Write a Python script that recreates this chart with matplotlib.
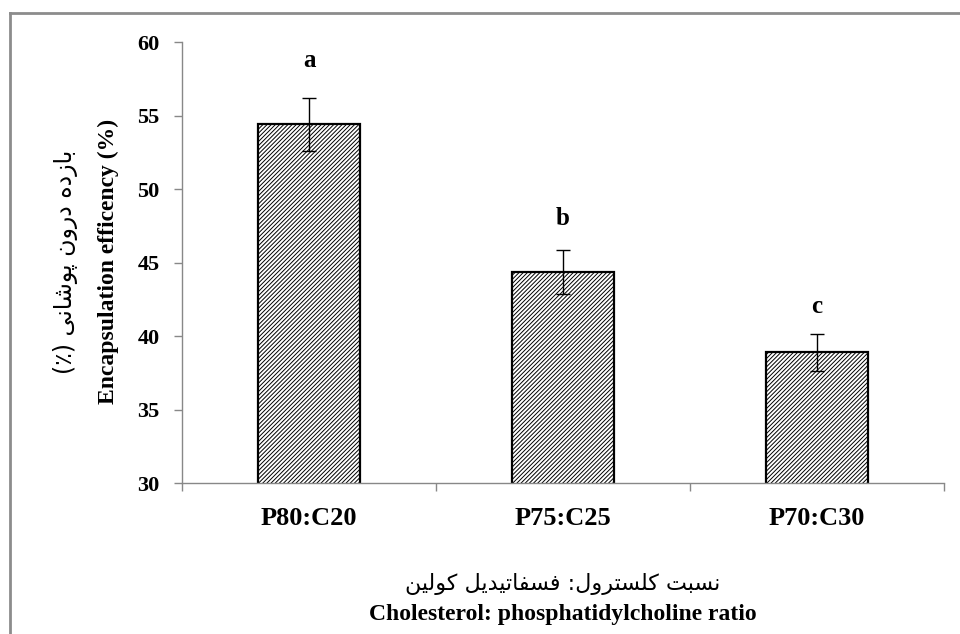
import matplotlib.pyplot as plt
from matplotlib.lines import Line2D

# data
groups = ['P80:C20', 'P75:C25', 'P70:C30']
efficiency = [54.4, 44.35, 38.9]
errors = [1.8, 1.5, 1.25]
letters = ['a', 'b', 'c']

ylabel_fa = 'بازده درون پوشانی (٪)'
ylabel_en = 'Encapsulation efficency (%)'
xlabel_fa = 'نسبت کلسترول: فسفاتیدیل کولین'
xlabel_en = 'Cholesterol: phosphatidylcholine ratio'

# tiny arabic shaper (no arabic_reshaper / bidi available)
# char: (isolated, final, initial, medial)
forms = {
    'ا': ('\uFE8D', '\uFE8E', None, None),
    'ب': ('\uFE8F', '\uFE90', '\uFE91', '\uFE92'),
    'ت': ('\uFE95', '\uFE96', '\uFE97', '\uFE98'),
    'د': ('\uFEA9', '\uFEAA', None, None),
    'ر': ('\uFEAD', '\uFEAE', None, None),
    'ز': ('\uFEAF', '\uFEB0', None, None),
    'س': ('\uFEB1', '\uFEB2', '\uFEB3', '\uFEB4'),
    'ش': ('\uFEB5', '\uFEB6', '\uFEB7', '\uFEB8'),
    'ف': ('\uFED1', '\uFED2', '\uFED3', '\uFED4'),
    'ل': ('\uFEDD', '\uFEDE', '\uFEDF', '\uFEE0'),
    'ن': ('\uFEE5', '\uFEE6', '\uFEE7', '\uFEE8'),
    'ه': ('\uFEE9', '\uFEEA', '\uFEEB', '\uFEEC'),
    'و': ('\uFEED', '\uFEEE', None, None),
    'پ': ('\uFB56', '\uFB57', '\uFB58', '\uFB59'),
    'ک': ('\uFB8E', '\uFB8F', '\uFB90', '\uFB91'),
    'ی': ('\uFBFC', '\uFBFD', '\uFBFE', '\uFBFF'),
}


def shape(txt):
    out = []
    for i, ch in enumerate(txt):
        if ch not in forms:
            out.append(ch)
            continue
        prev = txt[i - 1] if i > 0 else ''
        nxt = txt[i + 1] if i + 1 < len(txt) else ''
        dual = forms[ch][2] is not None
        p = prev in forms and forms[prev][2] is not None
        n = dual and nxt in forms
        if p and n:
            out.append(forms[ch][3])
        elif p:
            out.append(forms[ch][1])
        elif n:
            out.append(forms[ch][2])
        else:
            out.append(forms[ch][0])
    vis = ''.join(out)[::-1]
    return vis.translate(str.maketrans('()', ')('))


plt.rcParams['font.family'] = ['Liberation Serif', 'DejaVu Sans']
plt.rcParams['font.weight'] = 'bold'
plt.rcParams['hatch.linewidth'] = 0.7

fig = plt.figure(figsize=(9.6, 6.34), dpi=100)
ax = fig.add_axes([0.1896, 0.238, 0.7937, 0.6956])

x = range(len(groups))
ax.bar(x, efficiency, width=0.4, color='white', edgecolor='black',
       linewidth=1.6, hatch='////////', zorder=2)
ax.errorbar(x, efficiency, yerr=errors, fmt='none', ecolor='black',
            elinewidth=1, capsize=5, capthick=1, zorder=3)

# letter offsets above the error bars (points)
offs = [27, 23, 20]
for i in x:
    ax.annotate(letters[i], (i, efficiency[i] + errors[i]), xytext=(0, offs[i]),
                textcoords='offset points', ha='center', va='center',
                fontsize=18, fontweight='bold')

ax.set_ylim(30, 60)
ax.set_yticks([30, 35, 40, 45, 50, 55, 60])
ax.set_xlim(-0.5, 2.5)
ax.set_xticks(list(x))
ax.set_xticklabels(groups, fontsize=19, fontweight='bold')
ax.set_xticks([-0.5, 0.5, 1.5, 2.5], minor=True)
ax.tick_params(axis='x', which='major', length=0, pad=17)
ax.tick_params(axis='x', which='minor', length=6, color='#888888', width=1)
ax.tick_params(axis='y', length=6, color='#888888', width=1, pad=10, labelsize=16)
for t in ax.get_yticklabels():
    t.set_fontweight('bold')

for s in ['top', 'right']:
    ax.spines[s].set_visible(False)
for s in ['left', 'bottom']:
    ax.spines[s].set_color('#888888')
    ax.spines[s].set_linewidth(1)

fig.text(0.068, 0.587, shape(ylabel_fa), rotation=90, ha='center', va='center',
         fontsize=17, fontweight='normal', family=['DejaVu Sans'])
fig.text(0.1125, 0.587, ylabel_en, rotation=90, ha='center', va='center',
         fontsize=17, fontweight='bold')
fig.text(0.5865, 0.0795, shape(xlabel_fa), ha='center', va='center',
         fontsize=16, fontweight='normal', family=['DejaVu Sans'])
fig.text(0.5865, 0.0315, xlabel_en, ha='center', va='center',
         fontsize=17, fontweight='bold')

# grey frame on top and left
fig.add_artist(Line2D([0.0104, 1], [0.9795, 0.9795], transform=fig.transFigure,
                      color='#8c8c8c', linewidth=2))
fig.add_artist(Line2D([0.0104, 0.0104], [0, 0.9795], transform=fig.transFigure,
                      color='#8c8c8c', linewidth=2))

fig.savefig('out.png', dpi=100)
